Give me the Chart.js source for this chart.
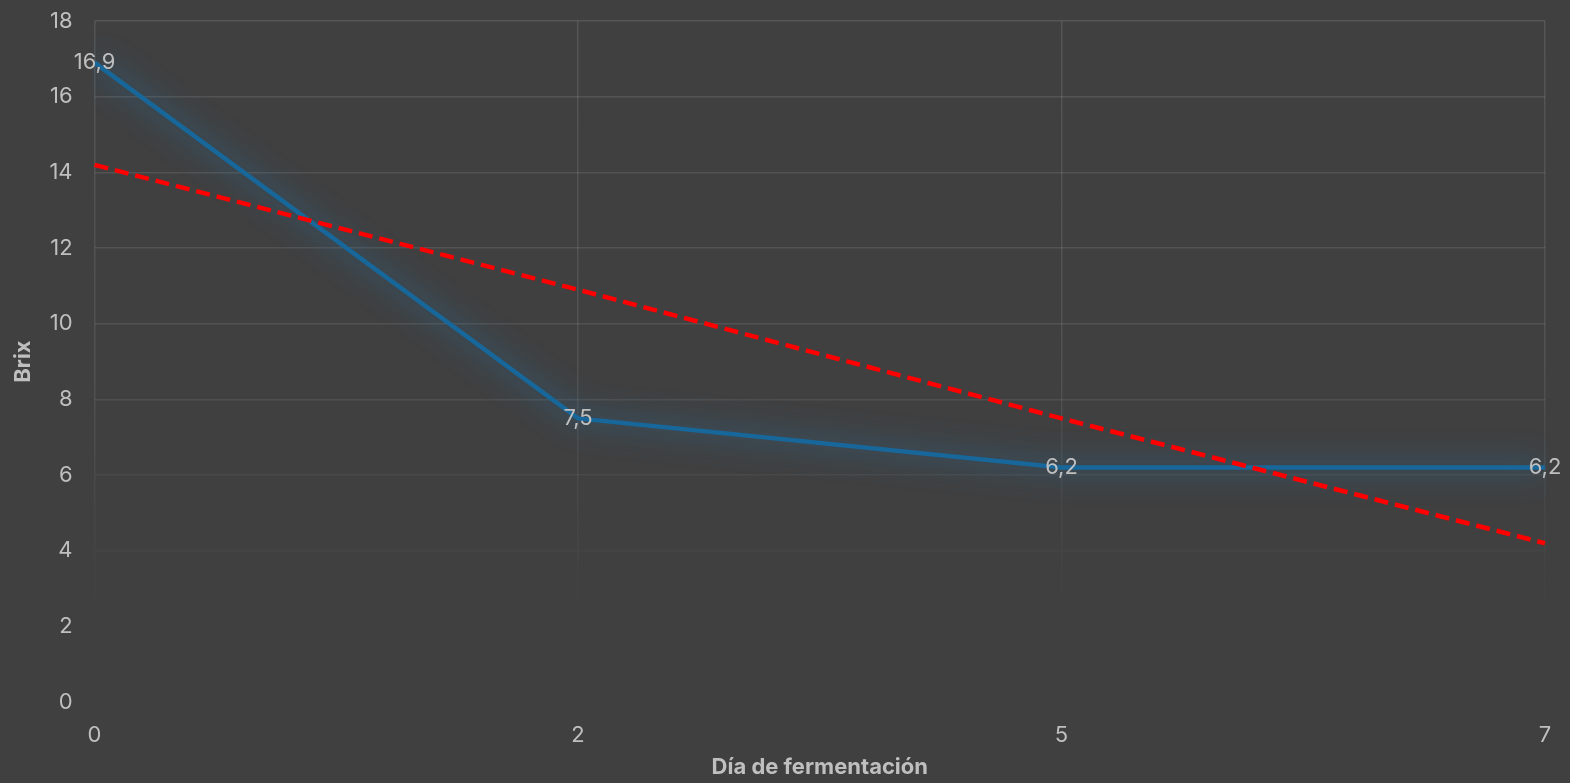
<!DOCTYPE html>
<html>
<head>
<meta charset="utf-8">
<script src="https://cdn.jsdelivr.net/npm/chart.js@4.4.1/dist/chart.umd.min.js"></script>
<style>
  html, body { margin: 0; padding: 0; background: #404040; }
  #wrap { width: 1570px; height: 783px; }
</style>
</head>
<body>
<div id="wrap"><canvas id="c" width="1570" height="783"></canvas></div>
<script>
// Días de fermentación y lectura de grados Brix
const dias = ['0', '2', '5', '7'];
const brix = [16.9, 7.5, 6.2, 6.2];
// Línea de tendencia lineal
const tendencia = [14.2, 10.9, 7.5, 4.2];
const yTicks = [0, 2, 4, 6, 8, 10, 12, 14, 16, 18];

const TEXT = '#bfbfbf';
const FONT = 'Inter, "Noto Sans", sans-serif';

// Las líneas de la cuadrícula se desvanecen hacia la base del área
function gridColor(ctx) {
  const chart = ctx.chart;
  const a = chart.chartArea;
  if (!a) return 'rgba(255,255,255,0.1)';
  const g = chart.ctx.createLinearGradient(0, a.top, 0, a.bottom);
  g.addColorStop(0, 'rgba(255,255,255,0.11)');
  g.addColorStop(0.52, 'rgba(255,255,255,0.09)');
  g.addColorStop(0.78, 'rgba(255,255,255,0.025)');
  g.addColorStop(0.9, 'rgba(255,255,255,0)');
  g.addColorStop(1, 'rgba(255,255,255,0)');
  return g;
}

// Resplandor azul de la serie principal
const glowPlugin = {
  id: 'glow',
  beforeDatasetDraw(chart, args) {
    const ds = chart.data.datasets[args.index];
    if (ds.glow) {
      const c = chart.ctx;
      c.save();
      c.shadowColor = 'rgba(30,130,200,0.95)';
      c.shadowBlur = 30;
    }
  },
  afterDatasetDraw(chart, args) {
    const ds = chart.data.datasets[args.index];
    if (ds.glow) chart.ctx.restore();
  }
};

// Etiquetas de valor con coma decimal sobre la serie Brix
const labelPlugin = {
  id: 'valueLabels',
  afterDatasetsDraw(chart) {
    const idx = chart.data.datasets.findIndex(d => d.label === 'Brix');
    const meta = chart.getDatasetMeta(idx);
    const c = chart.ctx;
    c.save();
    c.font = '22px ' + FONT;
    c.fillStyle = TEXT;
    c.textAlign = 'center';
    c.textBaseline = 'middle';
    meta.data.forEach((pt, i) => {
      const txt = brix[i].toFixed(1).replace('.', ',');
      c.fillText(txt, pt.x, pt.y);
    });
    c.restore();
  }
};

new Chart(document.getElementById('c'), {
  type: 'line',
  data: {
    labels: dias,
    datasets: [
      {
        label: 'Tendencia',
        data: tendencia,
        borderColor: '#ff0000',
        borderWidth: 4.5,
        borderDash: [14, 7],
        pointRadius: 0,
        fill: false,
        tension: 0,
        order: 0
      },
      {
        label: 'Brix',
        data: brix,
        borderColor: '#17679a',
        borderWidth: 4.5,
        pointRadius: 0,
        fill: false,
        tension: 0,
        glow: true,
        order: 1
      }
    ]
  },
  options: {
    responsive: false,
    animation: false,
    devicePixelRatio: 1,
    layout: { padding: { top: 0, right: 0, left: 10, bottom: 0 } },
    plugins: {
      legend: { display: false },
      tooltip: { enabled: false }
    },
    scales: {
      x: {
        type: 'category',
        offset: false,
        afterFit(axis) { axis.paddingRight = 25; axis.paddingLeft = 0; },
        grid: { color: gridColor, lineWidth: 1.5, drawTicks: false },
        border: { display: false },
        ticks: { color: TEXT, font: { family: FONT, size: 22 }, padding: 20, maxRotation: 0 },
        title: {
          display: true,
          text: 'Día de fermentación',
          color: TEXT,
          font: { family: FONT, size: 22, weight: 'bold' },
          padding: { top: -14, bottom: 2 }
        }
      },
      y: {
        min: 0,
        max: 18,
        afterBuildTicks(axis) { axis.ticks = yTicks.map(v => ({ value: v })); },
        afterFit(axis) { axis.paddingTop = 21; },
        grid: { color: gridColor, lineWidth: 1.5, drawTicks: false },
        border: { display: false },
        ticks: { color: TEXT, font: { family: FONT, size: 22 }, padding: 22 },
        title: {
          display: true,
          text: 'Brix',
          color: TEXT,
          font: { family: FONT, size: 22, weight: 'bold' },
          padding: { top: 0, bottom: -9 }
        }
      }
    }
  },
  plugins: [glowPlugin, labelPlugin]
});
</script>
</body>
</html>
